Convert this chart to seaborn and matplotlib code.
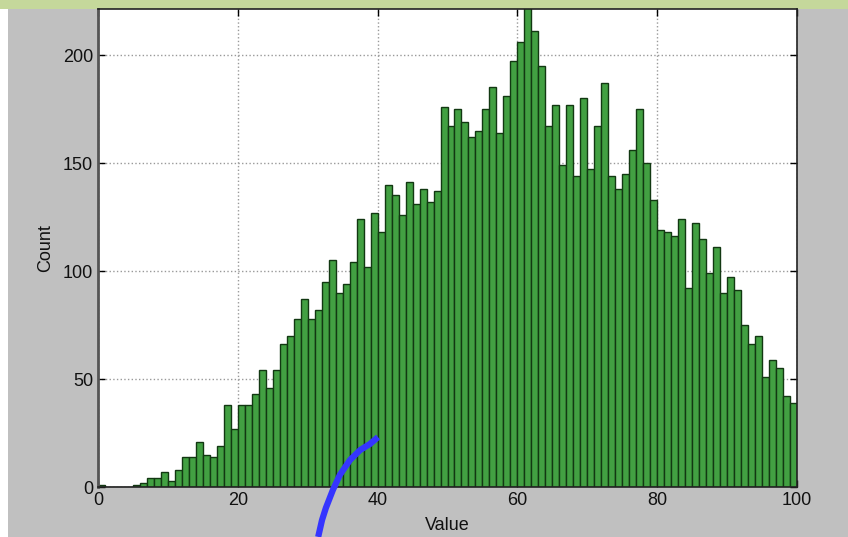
import numpy as np
import pandas as pd
import matplotlib.pyplot as plt
import seaborn as sns
from matplotlib.patches import Rectangle

# histogram counts, one per unit-wide bin from 0 to 100
counts = [1, 0, 0, 0, 0, 1, 2, 4, 4, 7,
          3, 8, 14, 14, 21, 15, 14, 19, 38, 27,
          38, 38, 43, 54, 46, 54, 66, 70, 78, 87,
          78, 82, 95, 105, 90, 94, 104, 124, 102, 127,
          118, 140, 135, 126, 141, 131, 138, 132, 137, 176,
          167, 175, 169, 162, 165, 175, 185, 164, 181, 197,
          206, 224, 211, 195, 167, 177, 149, 177, 144, 180,
          147, 167, 187, 144, 138, 145, 156, 175, 150, 133,
          119, 118, 116, 124, 92, 122, 115, 99, 111, 90,
          97, 91, 75, 66, 70, 51, 59, 55, 42, 39]
bin_lo, bin_hi = 0, 100
x_ticks = [0, 20, 40, 60, 80, 100]
y_ticks = [0, 50, 100, 150, 200]

# blue pen scribble drawn over the screenshot (data coords)
scribble_x = [31.5, 32.05, 32.6, 33.6, 34.6, 36.05, 37.5, 38.9, 40.06]
scribble_y = [-23.1, -15.3, -9.7, -1.4, 5.6, 12.5, 17.1, 19.9, 23.1]

df = pd.DataFrame({'value': np.arange(bin_lo, bin_hi) + 0.5, 'count': counts})

sns.set_style('white')
plt.rcParams['font.family'] = ['Liberation Sans', 'DejaVu Sans']

fig = plt.figure(figsize=(8.48, 5.37), dpi=100, facecolor='white')
# screenshot frame: grey backdrop and light green strip on top
fig.patches.append(Rectangle((8 / 848, 0), 840 / 848, 1 - 9 / 537,
                             transform=fig.transFigure, facecolor='#c0c0c0',
                             edgecolor='none', zorder=-5))
fig.patches.append(Rectangle((0, 1 - 9 / 537), 1, 9 / 537,
                             transform=fig.transFigure, facecolor='#c5d89b',
                             edgecolor='none', zorder=-5))

ax = fig.add_axes([98 / 848, 1 - 487 / 537, 699 / 848, 478 / 537])
ax.set_facecolor('white')

sns.histplot(data=df, x='value', weights='count', binwidth=1,
             binrange=(bin_lo, bin_hi), ax=ax,
             color='#42a042', edgecolor='#123812', linewidth=1.0, alpha=1)

ax.set_xlim(0, 100)
ax.set_ylim(0, 221.3)
ax.set_xticks(x_ticks)
ax.set_yticks(y_ticks)
ax.set_axisbelow(True)
ax.grid(True, linestyle=':', color='#999999', linewidth=1)
ax.tick_params(direction='in', length=5, width=1, labelsize=13,
               top=True, right=True, bottom=True, left=True,
               colors='black', labelcolor='#111111')
for s in ax.spines.values():
    s.set_color('#222222')
    s.set_linewidth(1.2)
ax.spines['left'].set_linewidth(2.0)
ax.spines['left'].set_color('#555555')

ax.set_xlabel('Value', fontsize=13, labelpad=6, color='#111111')
ax.set_ylabel('Count', fontsize=13, labelpad=6, color='#111111')

ax.plot(scribble_x, scribble_y, color='#3535ff', linewidth=4.5,
        solid_capstyle='butt', clip_on=False, zorder=5)

fig.savefig('out.png', dpi=100, facecolor=fig.get_facecolor())
